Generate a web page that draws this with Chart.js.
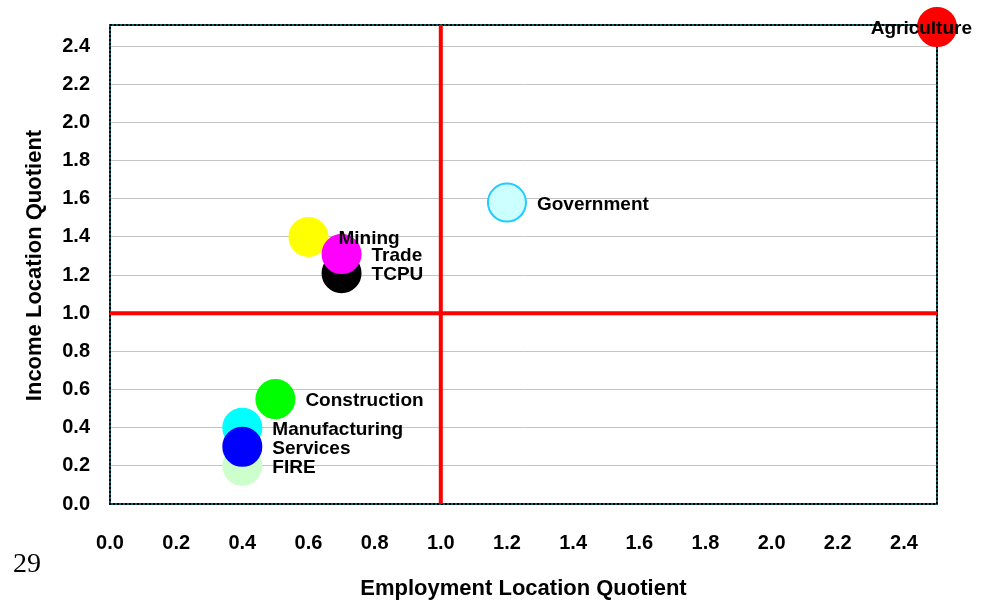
<!DOCTYPE html>
<html><head><meta charset="utf-8">
<script src="https://cdn.jsdelivr.net/npm/chart.js@4"></script>
<style>html,body{margin:0;padding:0;background:#fff}#wrap{width:992px;height:604px}</style>
</head><body><div id="wrap"><canvas id="c" width="992" height="604"></canvas></div>
<script>
const sectors = ['Agriculture','Government','Mining','TCPU','Trade','Construction','Manufacturing','FIRE','Services'];
const employmentLQ = [2.5, 1.2, 0.6, 0.7, 0.7, 0.5, 0.4, 0.4, 0.4];
const incomeLQ     = [2.5, 1.58, 1.4, 1.21, 1.31, 0.55, 0.4, 0.2, 0.3];
const fillColors   = ['#ff0000','#ccffff','#ffff00','#000000','#ff00ff','#00ff00','#00ffff','#ccffcc','#0000ff'];
const edgeColors   = ['#ff0000','#22ccff','#ffff00','#000000','#ff00ff','#00ff00','#00ffff','#ccffcc','#0000ff'];
const xTitle = 'Employment Location Quotient';
const yTitle = 'Income Location Quotient';
const pageNumber = '29';
const referenceValue = 1.0;

const FONT = "'Liberation Sans',Arial,sans-serif";

const decor = {
  id: 'decor',
  beforeDatasetsDraw(chart) {
    const {ctx, chartArea: a, scales: {x, y}} = chart;
    const top = a.top - 2;
    ctx.save();
    ctx.lineWidth = 2;
    ctx.strokeStyle = '#0e5a66';
    ctx.strokeRect(a.left, top, a.right - a.left, a.bottom - top);
    ctx.setLineDash([2, 2]);
    ctx.strokeStyle = '#000';
    ctx.strokeRect(a.left, top, a.right - a.left, a.bottom - top);
    ctx.setLineDash([]);
    const px = x.getPixelForValue(referenceValue), py = y.getPixelForValue(referenceValue);
    ctx.strokeStyle = '#ff0000';
    ctx.lineWidth = 4;
    ctx.beginPath();
    ctx.moveTo(px, top); ctx.lineTo(px, a.bottom);
    ctx.moveTo(a.left, py); ctx.lineTo(a.right, py);
    ctx.stroke();
    ctx.restore();
  },
  afterDatasetsDraw(chart) {
    const {ctx, scales: {x, y}} = chart;
    ctx.save();
    ctx.font = 'bold 19px ' + FONT;
    ctx.fillStyle = '#000';
    ctx.textBaseline = 'middle';
    ctx.textAlign = 'left';
    sectors.forEach((s, i) => {
      const px = x.getPixelForValue(employmentLQ[i]);
      const py = y.getPixelForValue(incomeLQ[i]);
      const w = ctx.measureText(s).width;
      let lx = px + 30;
      if (lx + w > chart.width - 20) lx = chart.width - 20 - w;
      ctx.fillText(s, lx, py + 2);
    });
    ctx.font = '28px "Liberation Serif","Times New Roman",serif';
    ctx.textBaseline = 'alphabetic';
    ctx.fillText(pageNumber, 13, 572);
    ctx.restore();
  }
};

const tickFont = {family: FONT, size: 20, weight: 'bold'};
const titleFont = {family: FONT, size: 22, weight: 'bold'};

new Chart(document.getElementById('c'), {
  type: 'bubble',
  data: {
    datasets: [{
      data: sectors.map((s, i) => ({x: employmentLQ[i], y: incomeLQ[i]})),
      backgroundColor: fillColors,
      borderColor: edgeColors,
      borderWidth: 2,
      radius: 19,
      clip: false
    }]
  },
  options: {
    responsive: false,
    animation: false,
    events: [],
    layout: {padding: {left: 0, right: 55, top: 27, bottom: 0}},
    plugins: {legend: {display: false}, tooltip: {enabled: false}},
    scales: {
      x: {
        type: 'linear', min: 0, max: 2.5,
        ticks: {stepSize: 0.2, includeBounds: false, color: '#000', font: tickFont, padding: 27,
                callback: v => v.toFixed(1), maxRotation: 0, autoSkip: false},
        grid: {display: false, drawTicks: false},
        border: {display: false},
        title: {display: true, text: xTitle, color: '#000', font: titleFont, padding: {top: 0, bottom: 2}},
        afterFit(s) { s.height = 100; s.paddingLeft = 0; s.paddingRight = 0; }
      },
      y: {
        type: 'linear', min: 0, max: 2.5,
        ticks: {stepSize: 0.2, includeBounds: false, color: '#000', font: tickFont, padding: 20,
                callback: v => v.toFixed(1), autoSkip: false},
        grid: {color: '#c4c4c4', lineWidth: 1, drawTicks: false},
        border: {display: false},
        title: {display: true, text: yTitle, color: '#000', font: titleFont, padding: {top: 22, bottom: 0}},
        afterFit(s) { s.width = 110; s.paddingTop = 0; s.paddingBottom = 0; }
      }
    }
  },
  plugins: [decor]
});
</script>
</body></html>
